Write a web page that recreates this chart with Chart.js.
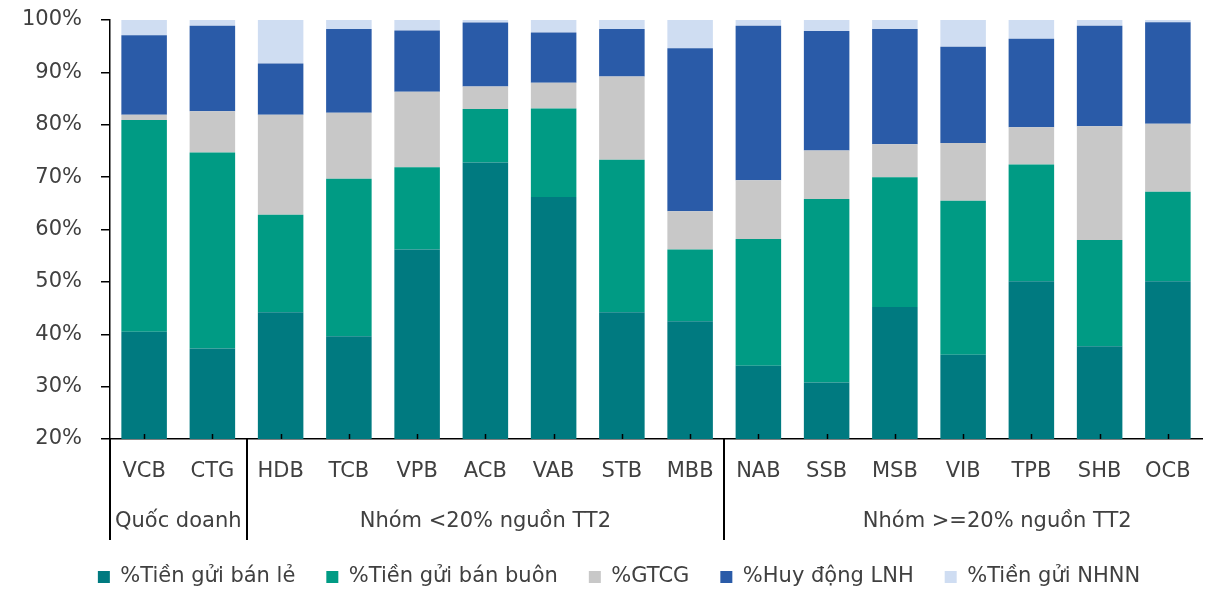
<!DOCTYPE html>
<html>
<head>
<meta charset="utf-8">
<script src="https://cdn.jsdelivr.net/npm/chart.js@4.4.0/dist/chart.umd.min.js"></script>
<style>
  html, body { margin: 0; padding: 0; background: #ffffff; }
  #wrap { width: 1209px; height: 589px; position: relative; }
</style>
</head>
<body>
<div id="wrap"><canvas id="c" width="1209" height="589"></canvas></div>
<script>
// ---- Data ----
const categories = ['VCB','CTG','HDB','TCB','VPB','ACB','VAB','STB','MBB','NAB','SSB','MSB','VIB','TPB','SHB','OCB'];
const retail    = [40.5, 37.3, 44.2, 39.6, 56.2, 72.8, 66.2, 44.2, 42.5, 34.0, 30.8, 45.2, 36.1, 50.1, 37.7, 50.1];
const wholesale = [40.4, 37.4, 18.6, 30.1, 15.7, 10.2, 16.9, 29.1, 13.7, 24.2, 35.0, 24.8, 29.4, 22.3, 20.3, 17.1];
const gtcg      = [ 1.0,  7.9, 19.1, 12.6, 14.4,  4.3,  4.9, 15.9,  7.3, 11.2,  9.3,  6.3, 11.0,  7.1, 21.7, 13.0];
const lnh       = [15.2, 16.3,  9.8, 16.0, 11.7, 12.2,  9.6,  9.1, 31.1, 29.5, 22.8, 22.0, 18.4, 16.9, 19.2, 19.35];
const nhnn      = [ 2.9,  1.1,  8.3,  1.7,  2.0,  0.5,  2.4,  1.7,  5.4,  1.1,  2.1,  1.7,  5.1,  3.6,  1.1,  0.45];
const seriesNames = ['%Tiền gửi bán lẻ', '%Tiền gửi bán buôn', '%GTCG', '%Huy động LNH', '%Tiền gửi NHNN'];
const groupNames = ['Quốc doanh', 'Nhóm <20% nguồn TT2', 'Nhóm >=20% nguồn TT2'];
const groupStart = [0, 2, 9];
const groupEnd   = [1, 8, 15];
const yTicks = [20, 30, 40, 50, 60, 70, 80, 90, 100];

const colors = ['#007A80', '#009B84', '#C8C8C8', '#2A5BA8', '#CFDDF2'];
const FONT = '"DejaVu Sans"';
const FSIZE = 21;
const TXT = '#404040';

const groupPlugin = {
  id: 'groups',
  afterLayout(chart) {
    // nudge legend slightly right, as in the original layout
    if (chart.legend) { chart.legend.left += 36; }
  },
  afterDraw(chart) {
    const x = chart.scales.x;
    const ctx = chart.ctx;
    const bottom = chart.chartArea.bottom;
    const half = (x.getPixelForValue(1) - x.getPixelForValue(0)) / 2;
    ctx.save();
    // inward ticks at category centres
    ctx.strokeStyle = '#000';
    ctx.lineWidth = 1.5;
    categories.forEach((c, i) => {
      const px = Math.round(x.getPixelForValue(i)) + 0.5;
      ctx.beginPath();
      ctx.moveTo(px, bottom);
      ctx.lineTo(px, bottom - 5);
      ctx.stroke();
    });
    // group separators
    ctx.lineWidth = 2;
    groupStart.forEach((s) => {
      const px = Math.round(x.getPixelForValue(s) - half);
      ctx.beginPath();
      ctx.moveTo(px, bottom);
      ctx.lineTo(px, bottom + 101);
      ctx.stroke();
    });
    // group labels
    ctx.fillStyle = TXT;
    ctx.font = FSIZE + 'px ' + FONT;
    ctx.textAlign = 'center';
    ctx.textBaseline = 'middle';
    groupNames.forEach((g, k) => {
      let cx = (x.getPixelForValue(groupStart[k]) + x.getPixelForValue(groupEnd[k])) / 2;
      if (k === groupNames.length - 1) cx += half;
      ctx.fillText(g, cx, bottom + 83);
    });
    ctx.restore();
  }
};

const datasetsData = [retail, wholesale, gtcg, lnh, nhnn];
new Chart(document.getElementById('c'), {
  type: 'bar',
  data: {
    labels: categories,
    datasets: datasetsData.map((d, i) => ({
      label: seriesNames[i],
      data: d,
      backgroundColor: colors[i],
      borderWidth: 0,
      barPercentage: 0.667,
      categoryPercentage: 1.0
    }))
  },
  options: {
    responsive: false,
    animation: false,
    devicePixelRatio: 1,
    layout: { padding: { left: 0, right: 7, top: 20, bottom: -8.5 } },
    plugins: {
      legend: {
        position: 'bottom',
        labels: {
          boxWidth: 12, boxHeight: 12, padding: 31,
          color: TXT,
          font: { family: FONT, size: FSIZE }
        }
      },
      tooltip: { enabled: false }
    },
    scales: {
      x: {
        stacked: true,
        grid: { display: false },
        border: { display: true, color: '#000', width: 1.5 },
        ticks: { color: TXT, font: { family: FONT, size: FSIZE }, padding: 12, maxRotation: 0, autoSkip: false },
        afterFit(scale) { scale.height = 96.5; scale.paddingLeft = 0; scale.paddingRight = 0; }
      },
      y: {
        stacked: true,
        min: 20, max: 100,
        afterBuildTicks(scale) { scale.ticks = yTicks.map(v => ({ value: v })); },
        grid: { drawOnChartArea: false, drawTicks: true, tickLength: 9, color: '#000', lineWidth: 1.5 },
        border: { display: true, color: '#000', width: 1.5 },
        ticks: { color: TXT, font: { family: FONT, size: FSIZE }, padding: 19, callback: v => v + '%' },
        afterFit(scale) { scale.width = 110; scale.paddingTop = 0; scale.paddingBottom = 0; }
      }
    }
  },
  plugins: [groupPlugin]
});
</script>
</body>
</html>
